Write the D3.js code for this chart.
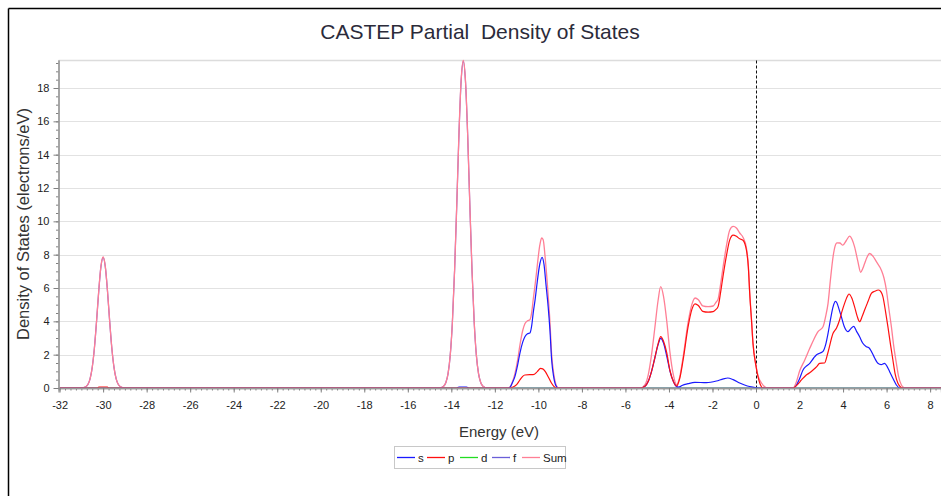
<!DOCTYPE html>
<html>
<head>
<meta charset="utf-8">
<script src="https://cdn.jsdelivr.net/npm/d3@7"></script>
<style>
  html, body { margin: 0; padding: 0; background: #fff; }
  svg { display: block; }
  text { font-family: "Liberation Sans", Arial, sans-serif; }
</style>
</head>
<body>
<svg id="chart" width="941" height="496"></svg>
<script>
// ---------------- DATA ----------------
const title = "CASTEP Partial\u00a0 Density of States";
const xLabel = "Energy (eV)";
const yLabel = "Density of States (electrons/eV)";

const xTicks = [-32, -30, -28, -26, -24, -22, -20, -18, -16, -14, -12, -10, -8, -6, -4, -2, 0, 2, 4, 6, 8];
const yTicks = [0, 2, 4, 6, 8, 10, 12, 14, 16, 18];

const seriesNames = ["s", "p", "d", "f", "Sum"];
const seriesColors = ["#1a1aff", "#ff1010", "#22dd22", "#6a5fd8", "#ff7f95"];

// [energy (eV), DOS (electrons/eV)]
const sData = [
  [-32, 0], [-13.75, 0], [-13.65, 0.06], [-13.3, 0.06], [-13.2, 0],
  [-11.4, 0], [-11.3, 0.05], [-11.2, 0.3], [-11.08, 0.68], [-10.95, 1.4], [-10.85, 2.08], [-10.72, 2.75],
  [-10.62, 3.08], [-10.5, 3.25], [-10.39, 3.3], [-10.3, 3.8], [-10.24, 4.48], [-10.15, 5.3], [-10.08, 6.07],
  [-9.93, 7.47], [-9.83, 7.84], [-9.74, 7.4], [-9.65, 6.2], [-9.55, 4.87], [-9.47, 3.5], [-9.39, 1.68],
  [-9.3, 0.7], [-9.2, 0.15], [-9.1, 0],
  [-5.3, 0], [-5.1, 0.1], [-4.95, 0.4], [-4.8, 1.0], [-4.65, 1.8], [-4.5, 2.6], [-4.38, 2.98], [-4.25, 2.7],
  [-4.1, 1.9], [-3.95, 1.0], [-3.8, 0.4], [-3.65, 0.08], [-3.55, 0.05], [-3.4, 0.15], [-3.12, 0.26],
  [-2.81, 0.34], [-2.28, 0.32], [-1.82, 0.42], [-1.5, 0.55], [-1.3, 0.6], [-1.05, 0.5], [-0.75, 0.3],
  [-0.4, 0.12], [-0.1, 0.04], [0.1, 0],
  [1.7, 0], [1.85, 0.15], [2.0, 0.55], [2.16, 1.08], [2.3, 1.3], [2.47, 1.48], [2.65, 1.8], [2.77, 1.98],
  [2.95, 2.1], [3.08, 2.2], [3.2, 2.6], [3.31, 3.28], [3.42, 4.1], [3.54, 4.87], [3.65, 5.2], [3.72, 5.1],
  [3.82, 4.7], [3.92, 4.28], [4.05, 3.7], [4.22, 3.38], [4.35, 3.55], [4.49, 3.7], [4.62, 3.4], [4.76, 3.08],
  [4.9, 2.7], [5.07, 2.48], [5.2, 2.4], [5.3, 2.2], [5.45, 1.8], [5.6, 1.48], [5.75, 1.4], [5.91, 1.48],
  [6.02, 1.3], [6.14, 0.98], [6.3, 0.55], [6.45, 0.18], [6.6, 0], [8.5, 0]
];

const pData = [
  [-32, 0], [-30.25, 0], [-30.2, 0.06], [-29.8, 0.06], [-29.75, 0],
  [-11.3, 0], [-11.2, 0.04], [-11.0, 0.2], [-10.85, 0.48], [-10.72, 0.7], [-10.62, 0.78], [-10.4, 0.8],
  [-10.24, 0.8], [-10.05, 0.98], [-9.9, 1.18], [-9.8, 1.15], [-9.68, 0.98], [-9.55, 0.68], [-9.4, 0.3],
  [-9.25, 0.05], [-9.15, 0],
  [-5.3, 0], [-5.1, 0.1], [-4.95, 0.4], [-4.8, 1.0], [-4.65, 1.8], [-4.5, 2.65], [-4.38, 3.08], [-4.25, 2.8],
  [-4.1, 2.1], [-3.96, 1.08], [-3.8, 0.4], [-3.65, 0.12], [-3.5, 0.6], [-3.35, 1.68], [-3.12, 3.68],
  [-2.95, 4.7], [-2.8, 5.05], [-2.65, 4.95], [-2.45, 4.6], [-2.2, 4.55], [-1.97, 4.58], [-1.85, 4.7],
  [-1.74, 4.9], [-1.62, 5.8], [-1.52, 6.67], [-1.35, 8.0], [-1.21, 8.87], [-1.05, 9.17], [-0.9, 9.1],
  [-0.75, 8.95], [-0.6, 8.87], [-0.44, 8.27], [-0.35, 7.2], [-0.29, 5.68], [-0.2, 3.9], [-0.14, 2.68],
  [0.0, 1.3], [0.09, 0.68], [0.2, 0.2], [0.32, 0],
  [1.7, 0], [1.9, 0.2], [2.1, 0.5], [2.31, 0.78], [2.45, 0.9], [2.62, 1.08], [2.8, 1.3], [2.92, 1.48],
  [3.15, 1.5], [3.3, 2.1], [3.54, 3.28], [3.7, 3.6], [3.84, 4.08], [3.95, 4.6], [4.07, 5.08], [4.2, 5.5],
  [4.27, 5.64], [4.4, 5.4], [4.53, 4.87], [4.65, 4.3], [4.76, 3.98], [4.88, 4.3], [4.99, 4.68], [5.15, 5.2],
  [5.3, 5.68], [5.45, 5.8], [5.63, 5.88], [5.75, 5.75], [5.83, 5.48], [5.95, 4.6], [6.06, 3.68], [6.18, 2.6],
  [6.29, 1.68], [6.4, 0.8], [6.52, 0.28], [6.65, 0.05], [6.75, 0], [8.5, 0]
];

const dData = [[-32, 0], [8.5, 0]];

const fData = [
  [-32, 0], [-30.95, 0], [-30.9, 0.02], [-30.8, 0.07], [-30.7, 0.21], [-30.6, 0.55], [-30.5, 1.24],
  [-30.4, 2.40], [-30.3, 4.03], [-30.2, 5.83], [-30.1, 7.28], [-30.0, 7.84], [-29.9, 7.28], [-29.8, 5.83],
  [-29.7, 4.03], [-29.6, 2.40], [-29.5, 1.24], [-29.4, 0.55], [-29.3, 0.21], [-29.2, 0.07], [-29.1, 0.02],
  [-29.05, 0],
  [-14.55, 0], [-14.45, 0.03], [-14.35, 0.11], [-14.25, 0.33], [-14.15, 0.86], [-14.05, 1.97], [-13.95, 3.98],
  [-13.85, 7.06], [-13.75, 11.0], [-13.65, 15.2], [-13.55, 18.4], [-13.45, 19.6], [-13.35, 18.4],
  [-13.25, 15.2], [-13.15, 11.0], [-13.05, 7.06], [-12.95, 3.98], [-12.85, 1.97], [-12.75, 0.86],
  [-12.65, 0.33], [-12.55, 0.11], [-12.45, 0.03], [-12.35, 0], [8.5, 0]
];

const sumData = [
  [-32, 0], [-30.95, 0], [-30.9, 0.02], [-30.8, 0.07], [-30.7, 0.21], [-30.6, 0.55], [-30.5, 1.24],
  [-30.4, 2.40], [-30.3, 4.03], [-30.2, 5.85], [-30.1, 7.3], [-30.0, 7.86], [-29.9, 7.3], [-29.8, 5.85],
  [-29.7, 4.03], [-29.6, 2.40], [-29.5, 1.24], [-29.4, 0.55], [-29.3, 0.21], [-29.2, 0.07], [-29.1, 0.02],
  [-29.05, 0],
  [-14.55, 0], [-14.45, 0.03], [-14.35, 0.11], [-14.25, 0.33], [-14.15, 0.86], [-14.05, 1.97], [-13.95, 3.98],
  [-13.85, 7.06], [-13.75, 11.0], [-13.65, 15.25], [-13.55, 18.45], [-13.45, 19.65], [-13.35, 18.45],
  [-13.25, 15.25], [-13.15, 11.0], [-13.05, 7.06], [-12.95, 3.98], [-12.85, 1.97], [-12.75, 0.86],
  [-12.65, 0.33], [-12.55, 0.11], [-12.45, 0.03], [-12.35, 0],
  [-11.4, 0], [-11.3, 0.06], [-11.2, 0.34], [-11.08, 0.85], [-10.95, 1.7], [-10.85, 2.56], [-10.72, 3.45],
  [-10.62, 3.86], [-10.5, 4.03], [-10.39, 4.1], [-10.3, 4.6], [-10.24, 5.28], [-10.15, 6.2], [-10.08, 7.0],
  [-9.93, 8.6], [-9.85, 9.0], [-9.78, 8.9], [-9.68, 7.7], [-9.55, 5.55], [-9.47, 4.0], [-9.39, 2.0],
  [-9.3, 0.9], [-9.2, 0.25], [-9.1, 0.02], [-9.0, 0],
  [-5.3, 0], [-5.1, 0.2], [-4.95, 0.8], [-4.8, 2.0], [-4.65, 3.6], [-4.5, 5.25], [-4.38, 6.08], [-4.25, 5.5],
  [-4.1, 4.0], [-3.96, 2.2], [-3.8, 0.8], [-3.65, 0.2], [-3.5, 0.7], [-3.35, 1.85], [-3.12, 3.94],
  [-2.95, 5.0], [-2.8, 5.4], [-2.65, 5.3], [-2.45, 4.93], [-2.2, 4.88], [-1.97, 4.92], [-1.85, 5.12],
  [-1.74, 5.35], [-1.62, 6.3], [-1.52, 7.2], [-1.35, 8.6], [-1.21, 9.47], [-1.05, 9.7], [-0.9, 9.6],
  [-0.75, 9.3], [-0.6, 9.05], [-0.44, 8.4], [-0.35, 7.3], [-0.29, 5.78], [-0.2, 4.0], [-0.14, 2.75],
  [0.0, 1.35], [0.09, 0.75], [0.25, 0.3], [0.4, 0.08], [0.55, 0],
  [1.7, 0], [1.85, 0.35], [2.0, 1.0], [2.24, 1.68], [2.47, 2.38], [2.65, 2.9], [2.85, 3.38], [3.08, 3.68],
  [3.2, 4.3], [3.31, 5.08], [3.42, 6.5], [3.54, 7.87], [3.63, 8.5], [3.72, 8.71], [3.85, 8.7], [3.99, 8.57],
  [4.15, 8.85], [4.3, 9.11], [4.42, 8.9], [4.53, 8.47], [4.68, 7.6], [4.81, 6.94], [4.9, 7.15], [4.99, 7.47],
  [5.1, 7.85], [5.22, 8.07], [5.38, 7.9], [5.53, 7.58], [5.76, 7.07], [5.88, 6.6], [5.99, 5.88], [6.1, 4.8],
  [6.22, 3.68], [6.33, 2.5], [6.45, 1.48], [6.55, 0.7], [6.68, 0.18], [6.8, 0.02], [6.85, 0], [8.5, 0]
];

// ---------------- CHART ----------------
const svg = d3.select("#chart");
const W = 941, H = 496;
const plot = { left: 58.5, right: 941, top: 60.5, bottom: 388 };

const x = d3.scaleLinear().domain([-32.05, 8.5]).range([plot.left, plot.right]);
const y = d3.scaleLinear().domain([0, 19.65]).range([plot.bottom, plot.top]);

// outer frame
svg.append("line").attr("x1", 8.5).attr("x2", W).attr("y1", 8.5).attr("y2", 8.5)
  .attr("stroke", "#000").attr("stroke-width", 1.5);
svg.append("line").attr("x1", 8.5).attr("x2", 8.5).attr("y1", 8.5).attr("y2", H)
  .attr("stroke", "#000").attr("stroke-width", 1.5);

// title
svg.append("text").attr("x", 480).attr("y", 39).attr("text-anchor", "middle")
  .attr("font-size", 21).attr("fill", "#2b2b3a").text(title);

// grid
svg.append("g").selectAll("line").data(yTicks.filter(d => d > 0)).join("line")
  .attr("x1", plot.left).attr("x2", plot.right)
  .attr("y1", d => Math.round(y(d)) + 0.5).attr("y2", d => Math.round(y(d)) + 0.5)
  .attr("stroke", "#e2e2e2").attr("stroke-width", 1.2);
svg.append("line").attr("x1", plot.left).attr("x2", plot.right).attr("y1", plot.top).attr("y2", plot.top)
  .attr("stroke", "#dcdcdc").attr("stroke-width", 1.5);

// Fermi level dashed line
svg.append("line").attr("x1", Math.round(x(0)) + 0.5).attr("x2", Math.round(x(0)) + 0.5)
  .attr("y1", plot.top).attr("y2", plot.bottom)
  .attr("stroke", "#111").attr("stroke-width", 1).attr("stroke-dasharray", "3,2");

// series
const line = d3.line().x(d => x(d[0])).y(d => y(d[1])).curve(d3.curveMonotoneX);
const allSeries = [sData, pData, dData, fData, sumData];
const drawOrder = [2, 3, 4, 0, 1];
const g = svg.append("g");
drawOrder.forEach(i => {
  g.append("path").datum(allSeries[i]).attr("d", line)
    .attr("fill", "none").attr("stroke", seriesColors[i])
    .attr("stroke-width", i === 4 ? 1.3 : 1.2).attr("stroke-linejoin", "round");
});

// axes
const minorX = d3.range(-32, 8.5 + 1e-9, 0.25);
const minorY = d3.range(0, 19.5 + 1e-9, 0.5);

const xAxisMinor = svg.append("g").attr("transform", `translate(0,${plot.bottom})`)
  .call(d3.axisBottom(x).tickValues(minorX).tickSize(2.5).tickFormat(""));
const xAxis = svg.append("g").attr("transform", `translate(0,${plot.bottom})`)
  .call(d3.axisBottom(x).tickValues(xTicks).tickSize(4.5).tickPadding(9).tickFormat(d3.format("d")));
const yAxisMinor = svg.append("g").attr("transform", `translate(${plot.left},0)`)
  .call(d3.axisLeft(y).tickValues(minorY).tickSize(2.5).tickFormat(""));
const yAxis = svg.append("g").attr("transform", `translate(${plot.left},0)`)
  .call(d3.axisLeft(y).tickValues(yTicks).tickSize(5).tickPadding(4).tickFormat(d3.format("d")));

[xAxisMinor, xAxis, yAxisMinor, yAxis].forEach(a => {
  a.select(".domain").attr("stroke", "#9a9a9a").attr("stroke-width", 1.3);
  a.selectAll(".tick line").attr("stroke", "#808080");
  a.selectAll(".tick text").attr("fill", "#222").attr("font-size", 11)
    .attr("font-family", '"Liberation Sans", Arial, sans-serif');
});
xAxis.selectAll(".tick text").text(d => d < 0 ? "-" + Math.abs(d) : d);
yAxis.select(".domain").attr("d", `M0.5,${plot.bottom}V${plot.top}`);
yAxisMinor.select(".domain").attr("d", `M0.5,${plot.bottom}V${plot.top}`);

// axis labels
svg.append("text").attr("x", 499).attr("y", 437).attr("text-anchor", "middle")
  .attr("font-size", 15).attr("fill", "#333").text(xLabel);
svg.append("text").attr("transform", `translate(29,${224}) rotate(-90)`).attr("text-anchor", "middle")
  .attr("font-size", 16.5).attr("fill", "#333").text(yLabel);

// legend
const leg = svg.append("g");
leg.append("rect").attr("x", 394.5).attr("y", 446.5).attr("width", 171).attr("height", 22)
  .attr("fill", "#fff").attr("stroke", "#c8c8c8");
const legX = [397, 427, 460, 492, 522];
seriesNames.forEach((n, i) => {
  leg.append("line").attr("x1", legX[i]).attr("x2", legX[i] + 18).attr("y1", 457.5).attr("y2", 457.5)
    .attr("stroke", seriesColors[i]).attr("stroke-width", 1.3);
  leg.append("text").attr("x", legX[i] + 21).attr("y", 461.5).attr("font-size", 11.5).attr("fill", "#222").text(n);
});
</script>
</body>
</html>
